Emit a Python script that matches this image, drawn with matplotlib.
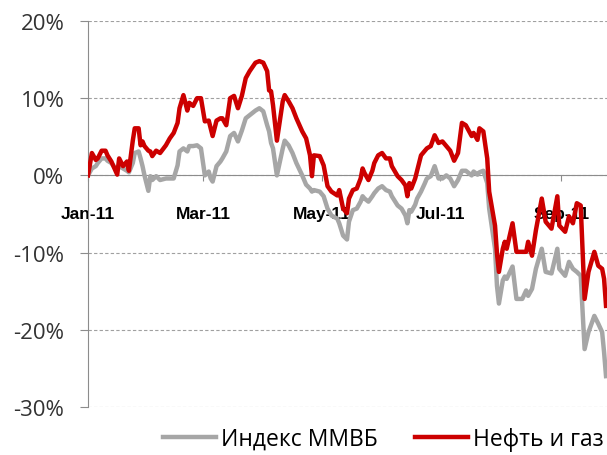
import numpy as np
import pandas as pd
import matplotlib
matplotlib.use('Agg')
import matplotlib.pyplot as plt
import matplotlib.dates as mdates
from matplotlib.ticker import PercentFormatter

plt.rcParams['font.family'] = ['Open Sans', 'DejaVu Sans']
plt.rcParams['axes.unicode_minus'] = False

# days since 2011-01-01
days = [0, 2, 4, 5, 7, 9, 10, 12, 15, 16, 18, 20, 21, 23, 24, 26, 27, 28, 29, 31,
        32, 33, 35, 37, 40, 42, 44, 46, 47, 49, 51, 52, 54, 56, 58, 60, 62, 63, 64, 66,
        68, 69, 71, 73, 75, 77, 79, 81, 83, 86, 88, 90, 92, 93, 94, 95, 97, 100, 101, 103,
        105, 107, 110, 112, 114, 115, 116, 119, 121, 123, 125, 128, 129, 131, 133, 134, 136, 138, 140, 141,
        142, 144, 146, 147, 149, 151, 153, 155, 156, 159, 161, 163, 164, 165, 166, 168, 169, 171, 173, 174,
        176, 178, 180, 182, 184, 186, 188, 190, 192, 194, 197, 198, 200, 201, 203, 205, 206, 209, 210, 211,
        213, 214, 215, 218, 220, 223, 225, 226, 228, 230, 233, 235, 238, 241, 242, 245, 247, 249, 251, 253,
        255, 257, 260, 262, 264, 265, 266]

# Нефть и газ, %
neft_gaz = [0.0, 2.9, 2.0, 2.2, 3.2, 3.2, 2.6, 1.8, 0.1, 2.2, 1.2, 1.8, 0.6, 4.5, 6.1, 6.1, 3.9, 4.4, 3.8, 3.2,
            3.1, 2.5, 3.2, 2.9, 3.9, 4.8, 5.5, 6.8, 8.7, 10.4, 8.4, 9.4, 9.0, 10.0, 10.0, 7.0, 7.1, 6.1, 5.1, 7.1,
            7.4, 7.4, 6.5, 10.0, 10.3, 8.7, 10.3, 12.6, 13.5, 14.6, 14.8, 14.6, 13.5, 11.0, 10.9, 9.1, 4.5, 9.6, 10.4, 9.6,
            8.7, 7.4, 5.7, 4.8, 2.6, -0.1, 2.6, 2.5, 1.3, -1.4, -2.1, -2.6, -1.9, -4.3, -4.9, -3.0, -1.9, -1.7, -0.4, 0.9,
            0.3, -0.6, 0.6, 1.6, 2.6, 2.9, 2.2, 2.2, 1.2, -0.1, -0.6, -1.3, -2.7, -1.0, -1.7, -0.4, 0.6, 2.6, 3.2, 3.5,
            3.8, 5.2, 4.2, 4.4, 3.8, 3.2, 1.9, 2.9, 6.8, 6.5, 5.1, 5.5, 4.6, 6.1, 5.7, 2.2, -2.1, -6.5, -10.1, -12.5,
            -9.5, -8.6, -9.5, -6.2, -9.9, -9.9, -9.9, -8.6, -10.4, -7.1, -3.0, -6.0, -6.9, -2.7, -6.5, -7.3, -5.3, -6.2, -3.6, -3.9,
            -16.0, -12.5, -9.9, -11.7, -12.1, -13.4, -16.9]

# Индекс ММВБ, %
micex = [0.0, 0.9, 1.2, 1.6, 2.2, 2.2, 1.9, 1.6, 0.6, 1.2, 0.9, 0.6, 0.4, 1.6, 2.9, 3.1, 2.2, 1.2, 0.0, -2.0,
         -0.1, -0.6, -0.1, -0.6, -0.4, -0.4, -0.4, 1.3, 3.1, 3.5, 3.1, 3.8, 3.8, 3.9, 3.5, 0.0, 0.5, -0.4, -0.8, 1.2,
         1.8, 2.2, 3.1, 5.1, 5.5, 4.4, 5.8, 7.4, 7.8, 8.4, 8.7, 8.3, 6.5, 5.7, 4.2, 3.5, 0.0, 3.5, 4.5, 3.9,
         2.9, 1.6, 0.0, -1.2, -1.7, -2.1, -1.9, -2.1, -2.7, -4.3, -5.2, -5.6, -6.2, -7.8, -8.3, -6.0, -4.5, -4.3, -3.4, -2.7,
         -3.0, -3.4, -2.7, -2.3, -1.7, -1.4, -1.9, -2.1, -2.7, -3.9, -4.3, -5.2, -6.2, -4.5, -4.7, -3.8, -3.0, -2.1, -1.0, -0.4,
         -0.1, 1.2, -0.4, -0.4, 0.0, -0.4, -1.4, -0.6, 0.6, 0.6, 0.0, 0.5, 0.1, 0.4, 0.6, -1.0, -4.3, -9.5, -14.3, -16.6,
         -13.6, -13.1, -13.4, -11.8, -16.0, -16.0, -14.9, -15.6, -14.7, -12.1, -9.5, -12.5, -12.7, -9.5, -12.1, -13.0, -11.2, -12.1, -12.5, -13.0,
         -22.5, -20.3, -18.2, -19.2, -20.3, -22.9, -26.0]

start = pd.Timestamp('2011-01-01')
dates = start + pd.to_timedelta(days, unit='D')

fig = plt.figure(figsize=(6.07, 4.56), dpi=100)
ax = fig.add_axes([88 / 607, 48 / 456, 1 - 88 / 607, 386 / 456])

ax.plot(dates, micex, color='#A6A6A6', lw=3.2, label='Индекс ММВБ', zorder=3)
ax.plot(dates, neft_gaz, color='#CC0000', lw=3.2, label='Нефть и газ', zorder=4)

ax.set_ylim(-30, 20)
ax.set_xlim(start, start + pd.Timedelta(days=266.5))
ax.set_yticks(np.arange(-30, 21, 10))
ax.yaxis.set_major_formatter(PercentFormatter(decimals=0))
ax.grid(axis='y', color='#A0A0A0', lw=0.8, ls=(0, (3, 2)))
ax.set_axisbelow(True)

for s in ['top', 'right']:
    ax.spines[s].set_visible(False)
ax.spines['left'].set_color('#8C8C8C')
ax.spines['bottom'].set_color('#8C8C8C')
ax.spines['bottom'].set_position(('data', 0))

ax.xaxis.set_major_locator(mdates.MonthLocator(bymonth=[1, 3, 5, 7, 9]))
ax.xaxis.set_major_formatter(mdates.DateFormatter('%b-%y'))
ax.tick_params(axis='x', length=4, color='#8C8C8C', pad=18)
ax.tick_params(axis='y', length=6, color='#8C8C8C', pad=11, labelsize=16, labelcolor='#333333')
for t in ax.get_xticklabels():
    t.set_fontfamily('Liberation Sans')
    t.set_fontweight('bold')
    t.set_fontsize(12.5)

fig.legend(loc='center left', bbox_to_anchor=(163 / 607, 1 - 440 / 456), ncol=2,
           frameon=False, fontsize=16.5, handlelength=2.3, handletextpad=0.25,
           columnspacing=1.6, borderaxespad=0, borderpad=0)

fig.savefig('out.png', dpi=100)
